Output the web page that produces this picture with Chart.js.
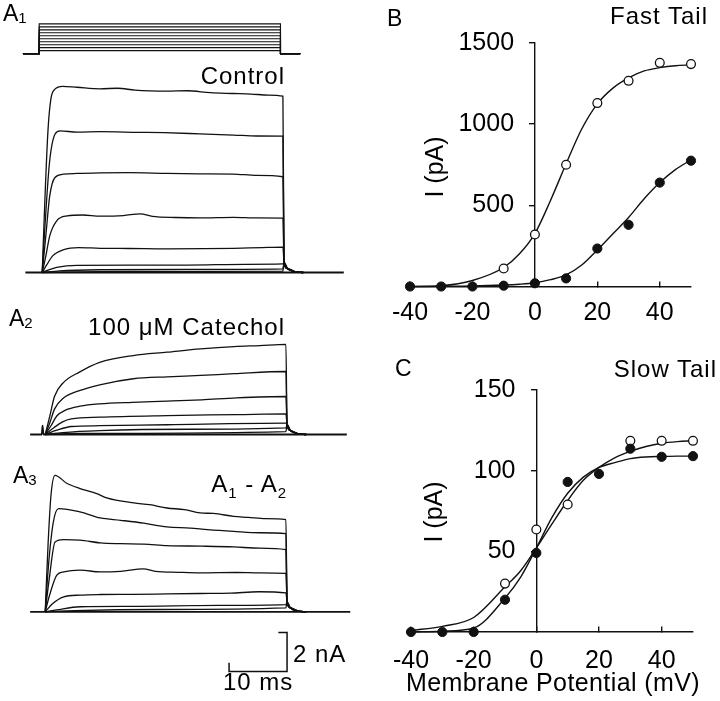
<!DOCTYPE html>
<html>
<head>
<meta charset="utf-8">
<script src="https://cdn.jsdelivr.net/npm/chart.js@4.4.1/dist/chart.umd.min.js"></script>
<style>
  body { margin: 0; background: #fff; width: 720px; height: 701px; position: relative; overflow: hidden;
         font-family: "Liberation Sans", Arial, sans-serif; color: #000; }
  canvas { position: absolute; }
  .lbl { position: absolute; white-space: nowrap; line-height: 1; font-size: 24px; letter-spacing: 1px; }
  .pan { position: absolute; white-space: nowrap; line-height: 1; font-size: 23px; }
  .pan sub { font-size: 15px; vertical-align: -2px; }
  .ytitle { position: absolute; white-space: nowrap; line-height: 1; font-size: 25px;
            transform: translate(-50%, -50%) rotate(-90deg); }
  .xtitle { position: absolute; white-space: nowrap; line-height: 1; font-size: 25px; letter-spacing: 0.4px;
            transform: translate(-50%, -50%); }
</style>
</head>
<body>

<canvas id="protocol" width="348" height="46" style="left:16px;top:15px"></canvas>
<canvas id="control" width="348" height="234" style="left:19px;top:58px"></canvas>
<canvas id="catechol" width="348" height="156" style="left:22px;top:298px"></canvas>
<canvas id="diff" width="348" height="224" style="left:22px;top:456px"></canvas>
<canvas id="fast" width="360" height="330" style="left:360px;top:0px"></canvas>
<canvas id="slow" width="360" height="371" style="left:360px;top:330px"></canvas>

<div class="pan" style="left:3px;top:2px">A<sub>1</sub></div>
<div class="pan" style="left:9px;top:307px">A<sub>2</sub></div>
<div class="pan" style="left:13px;top:464px">A<sub>3</sub></div>
<div class="lbl" style="right:435px;top:64px">Control</div>
<div class="lbl" style="right:435px;top:315px">100 μM Catechol</div>
<div class="lbl" style="right:433px;top:472px">A<sub style="font-size:15px">1</sub> - A<sub style="font-size:15px">2</sub></div>
<div class="lbl" style="left:293px;top:642px">2 nA</div>
<div class="lbl" style="left:223px;top:670px">10 ms</div>
<div class="pan" style="left:387px;top:7px">B</div>
<div class="lbl" style="right:12px;top:4px">Fast Tail</div>
<div class="ytitle" style="left:434px;top:167px">I (pA)</div>
<div class="pan" style="left:395px;top:357px">C</div>
<div class="lbl" style="right:3px;top:357px">Slow Tail</div>
<div class="ytitle" style="left:433px;top:512px">I (pA)</div>
<div class="xtitle" style="left:553px;top:682px">Membrane Potential (mV)</div>

<script>
// voltage protocol (mV), pulse timing (ms)
const holdingPotential = -50;
const stepLevels = [-40, -30, -20, -10, 0, 10, 20, 30, 40, 50];
const pulseEnd = 41.6;

// current traces [ms, nA]
const tailPoints = [[41.7, 0.5], [42.3, 0.2], [43.5, 0.05], [45, 0]];

const controlTraces = [
  [[0,0],[0.5,4],[1,7.3],[1.5,8.9],[2.2,9.4],[3.5,9.55],[6,9.5],[10,9.42],[13,9.45],[16,9.35],[21.5,9.3],[25,9.32],[29,9.22],[32.9,9.18],[36,9.15],[39,9.1],[41.5,9.04]],
  [[0,0],[0.5,2.5],[1.26,5.64],[2.2,7.09],[3.1,7.26],[6,7.2],[10,7.22],[16.4,7.19],[21,7.17],[27.2,7.11],[33,7.05],[37,7.0],[41.5,6.99]],
  [[0,0],[0.6,1.8],[1.3,3.93],[2.2,4.87],[3.7,5.04],[6,5.08],[10,5.11],[15,5.12],[21.5,5.08],[27,5.06],[32.9,5.05],[37,4.98],[41.5,4.91]],
  [[0,0],[0.6,0.8],[1.3,1.88],[2.5,2.65],[4.3,2.9],[7,2.95],[10,2.89],[14,2.92],[16.9,3.01],[19,2.88],[23,2.82],[27.2,2.8],[33,2.83],[37,2.8],[41.5,2.79]],
  [[0,0],[0.8,0.4],[1.8,0.85],[3.6,1.16],[6.3,1.28],[10,1.24],[15,1.23],[21.5,1.21],[28,1.22],[33,1.24],[38,1.28],[41.5,1.3]],
  [[0,0],[1,0.12],[2.5,0.26],[6,0.37],[15,0.38],[25,0.38],[35,0.42],[41.5,0.44]],
  [[0,0],[3,0.08],[10,0.14],[25,0.16],[41.5,0.19]],
  [[0,0],[10,0.05],[41.5,0.07]]
];

const catecholTraces = [
  [[0,0],[0.8,0.95],[1.6,1.95],[3.1,2.65],[5.9,3.2],[9.4,3.7],[15.2,4.05],[21,4.22],[26.8,4.39],[32.6,4.51],[37,4.56],[41.5,4.62]],
  [[0,0],[0.8,0.6],[1.6,1.3],[3.1,1.86],[5.9,2.25],[9.4,2.55],[15.2,2.86],[21,2.96],[26.8,3.03],[32.6,3.12],[41.5,3.23]],
  [[0,0],[1,0.45],[2,0.95],[3.5,1.25],[6,1.45],[9.4,1.57],[15,1.65],[21,1.71],[27,1.78],[33,1.88],[41.5,1.95]],
  [[0,0],[1.5,0.35],[3,0.65],[4.5,0.8],[9.4,0.89],[21,0.97],[33,1.02],[41.5,1.06]],
  [[0,0],[2,0.22],[4.5,0.41],[9.4,0.45],[21,0.5],[41.5,0.58]],
  [[0,0],[3,0.1],[9.4,0.2],[25,0.27],[41.5,0.34]],
  [[0,0],[5,0.06],[41.5,0.15]]
];
const catecholArtifact = [[-0.6,0],[-0.45,0.46],[-0.3,0]];

const diffTraces = [
  [[0,0],[0.5,3.5],[1,6],[1.7,7.01],[3.7,6.6],[6,6.33],[8.9,6.07],[10.6,5.85],[15.3,5.59],[18,5.5],[21,5.33],[24,5.25],[26.7,5.08],[29,5.05],[32.5,4.9],[35,4.85],[38,4.78],[41.5,4.73]],
  [[0,0],[0.6,2.5],[1.4,4.6],[2.3,5.3],[6,5.13],[9.5,4.82],[13,4.7],[17,4.55],[21,4.36],[25,4.3],[28,4.22],[32.5,4.13],[37,4.06],[41.5,4.02]],
  [[0,0],[0.7,1.7],[1.7,3.59],[3.2,3.71],[6,3.68],[9.5,3.54],[13,3.5],[17,3.48],[21,3.4],[27,3.37],[32.5,3.33],[37,3.27],[41.5,3.19]],
  [[0,0],[0.8,0.9],[2,1.88],[3.2,2.05],[6,2.14],[9.5,2.05],[13,2.08],[16.9,2.2],[19,2.08],[23,2.03],[26.7,2.0],[33,2.02],[37,2.0],[41.5,1.97]],
  [[0,0],[1.2,0.4],[3.2,0.77],[6,0.86],[9.5,0.89],[15,0.9],[21,0.92],[26.7,0.94],[32,0.96],[36.8,1.03],[41.5,0.97]],
  [[0,0],[2,0.1],[6,0.26],[15,0.28],[30,0.33],[41.5,0.37]],
  [[0,0],[5,0.06],[20,0.12],[41.5,0.2]]
];

// scale bar: 10 ms, 2 nA
const scaleBarMs = 10;
const scaleBarNa = 2;

// tail current vs membrane potential
const potentials = [-40, -30, -20, -10, 0, 10, 20, 30, 40, 50];
const fastOpen = [null, null, null, 111, 320, 750, 1130, 1267, 1378, 1370];
const fastFilled = [0, 0, 0, 5, 20, 50, 234, 380, 640, 775];
const slowOpen = [null, null, null, 30, 63.5, 79, null, 118.5, 118.5, 118.5];
const slowFilled = [0, 0, 0, 20, 49, 93, 98, 113.6, 108.6, 109];

const fitPotentials = [-40, -30, -20, -10, -5, 0, 5, 10, 15, 20, 25, 30, 35, 40, 45, 50];
const fastOpenFit = [0, 5, 37, 117, 200, 326, 530, 756, 970, 1125, 1222, 1285, 1328, 1348, 1360, 1365];
const fastFilledFit = [0, 1, 3, 9, 14, 23, 42, 71, 132, 225, 325, 425, 540, 640, 720, 780];
const slowOpenFit = [1, 3.5, 9, 28, 38, 52, 67, 81.5, 94, 102, 108, 112, 115, 117, 118, 118.5];
const slowFilledFit = [0, 0.5, 2.5, 21, 34, 52, 71, 86, 96, 102, 105, 107.5, 108.5, 108.8, 109, 109];

const xTicks = [-40, -20, 0, 20, 40];
const fastYTicks = [500, 1000, 1500];
const slowYTicks = [50, 100, 150];

const toXY = pairs => pairs.map(([x, y]) => ({ x, y }));
const ink = '#111';

function plainOptions(yMin, yMax) {
  return {
    responsive: false,
    animation: false,
    layout: { padding: 0 },
    plugins: { legend: { display: false }, tooltip: { enabled: false } },
    scales: {
      x: { type: 'linear', min: -4, max: 56, display: false },
      y: { type: 'linear', min: yMin, max: yMax, display: false }
    }
  };
}

function traceSet(points, width) {
  return {
    data: toXY(points),
    showLine: true,
    borderColor: ink,
    borderWidth: width || 1.3,
    pointRadius: 0,
    cubicInterpolationMode: 'monotone',
    clip: 4
  };
}

function traceChart(id, traces, baseline, extra, yMin, yMax) {
  const datasets = traces.map(t => traceSet(t.concat(tailPoints)));
  datasets.push(traceSet(baseline, 1.8));
  extra.forEach(e => datasets.push(e));
  new Chart(document.getElementById(id), {
    type: 'scatter',
    data: { datasets },
    options: plainOptions(yMin, yMax)
  });
}

// A1 voltage protocol
new Chart(document.getElementById('protocol'), {
  type: 'scatter',
  data: {
    datasets: stepLevels.map(v => ({
      data: toXY([[-2.8, holdingPotential], [0, holdingPotential], [0, v], [pulseEnd, v],
                  [pulseEnd, holdingPotential], [45, holdingPotential]]),
      showLine: true, borderColor: ink, borderWidth: 1.1, pointRadius: 0, tension: 0
    }))
  },
  options: plainOptions(-75, 80)
});

traceChart('control', controlTraces, [[-2.9, 0], [52, 0]], [], -1, 11);

traceChart('catechol', catecholTraces,
  [[-2.6, 0]].concat(catecholArtifact, [[52, 0]]), [], -1, 7);

const barCornerX = 41.7, barCornerY = -3.06;
traceChart('diff', diffTraces, [[-2.6, 0], [52.6, 0]], [{
  data: toXY([[barCornerX - scaleBarMs, barCornerY + 0.45], [barCornerX - scaleBarMs, barCornerY],
              [barCornerX, barCornerY], [barCornerX, barCornerY + scaleBarNa],
              [barCornerX - 1.5, barCornerY + scaleBarNa]]),
  showLine: true, borderColor: ink, borderWidth: 1.5, pointRadius: 0, tension: 0
}], -3.5, 8);

// B and C
function ivChart(id, open, filled, openFit, filledFit, yMax, yTicks, pad, xLabelPad) {
  const pts = vals => potentials.map((v, i) => ({ x: v, y: vals[i] })).filter(p => p.y !== null);
  const fit = vals => fitPotentials.map((v, i) => ({ x: v, y: vals[i] }));
  const tickFont = { family: 'Liberation Sans', size: 25 };
  new Chart(document.getElementById(id), {
    type: 'scatter',
    data: {
      datasets: [
        { data: pts(filled), pointRadius: 4.6, pointBackgroundColor: ink, pointBorderColor: ink, pointBorderWidth: 1, clip: false },
        { data: pts(open), pointRadius: 4.4, pointBackgroundColor: '#fff', pointBorderColor: ink, pointBorderWidth: 1.3, clip: false },
        { data: fit(openFit), showLine: true, pointRadius: 0, borderColor: ink, borderWidth: 1.4, cubicInterpolationMode: 'monotone', clip: false },
        { data: fit(filledFit), showLine: true, pointRadius: 0, borderColor: ink, borderWidth: 1.4, cubicInterpolationMode: 'monotone', clip: false }
      ]
    },
    options: {
      responsive: false,
      animation: false,
      layout: { padding: pad },
      plugins: { legend: { display: false }, tooltip: { enabled: false } },
      scales: {
        x: {
          type: 'linear', min: -40, max: 50, position: { y: 0 },
          afterBuildTicks: axis => { axis.ticks = xTicks.map(v => ({ value: v })); },
          border: { color: ink, width: 1.4 },
          grid: { drawOnChartArea: false, color: ink, lineWidth: 1.4, tickLength: -6 },
          ticks: { color: '#000', font: tickFont, padding: xLabelPad, autoSkip: false, maxRotation: 0 }
        },
        y: {
          type: 'linear', min: 0, max: yMax, position: { x: 0 },
          afterBuildTicks: axis => { axis.ticks = yTicks.map(v => ({ value: v })); },
          border: { color: ink, width: 1.4 },
          grid: { drawOnChartArea: false, color: ink, lineWidth: 1.4, tickLength: 5 },
          // label sits left of the axis line, gap kept with trailing spaces
          ticks: { color: '#000', font: tickFont, autoSkip: false, callback: v => v + '   ' }
        }
      }
    }
  });
}

ivChart('fast', fastOpen, fastFilled, fastOpenFit, fastFilledFit, 1500, fastYTicks,
  { left: 50, right: 29, top: 43, bottom: 43.5 }, 17.5);
ivChart('slow', slowOpen, slowFilled, slowOpenFit, slowFilledFit, 150, slowYTicks,
  { left: 51, right: 27, top: 60, bottom: 69 }, 20);
</script>
</body>
</html>
